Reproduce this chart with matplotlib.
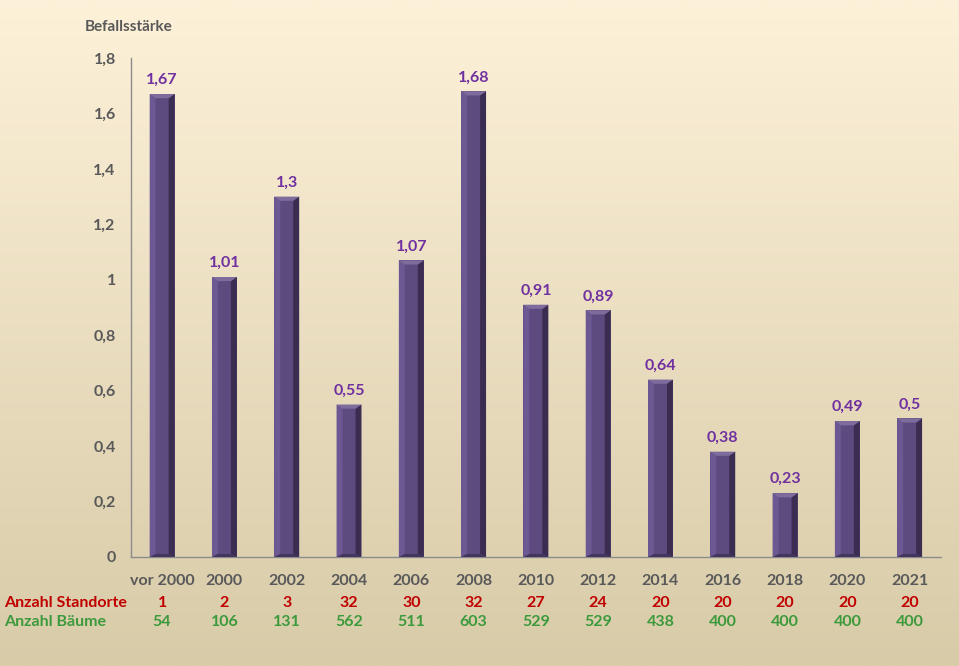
import matplotlib
matplotlib.use("Agg")
import matplotlib.pyplot as plt
import numpy as np
from matplotlib.patches import Polygon

categories = ["vor 2000", "2000", "2002", "2004", "2006", "2008", "2010", "2012",
              "2014", "2016", "2018", "2020", "2021"]
befall = [1.67, 1.01, 1.3, 0.55, 1.07, 1.68, 0.91, 0.89, 0.64, 0.38, 0.23, 0.49, 0.5]
standorte = [1, 2, 3, 32, 30, 32, 27, 24, 20, 20, 20, 20, 20]
baeume = [54, 106, 131, 562, 511, 603, 529, 529, 438, 400, 400, 400, 400]
yticks = [0, 0.2, 0.4, 0.6, 0.8, 1.0, 1.2, 1.4, 1.6, 1.8]

plt.rcParams['font.family'] = ['Lato', 'DejaVu Sans']

W, H = 959, 666
fig = plt.figure(figsize=(W / 100, H / 100), dpi=100)

# background gradient
bg = fig.add_axes([0, 0, 1, 1], zorder=-10)
top = np.array([253, 241, 217]) / 255
bot = np.array([216, 203, 168]) / 255
t = np.linspace(0, 1, 256)[:, None]
grad = top[None, :] * (1 - t) + bot[None, :] * t
bg.imshow(grad[:, None, :], aspect='auto', extent=[0, 1, 0, 1])
bg.axis('off')

axpos = [0.1366, 0.1637, 0.981 - 0.1366, 0.9129 - 0.1637]
ax = fig.add_axes(axpos)
ax.patch.set_alpha(0)
x = np.arange(len(categories))
w = 0.4
ax.set_xlim(-0.5, len(categories) - 0.5)
ax.set_ylim(0, 1.8)
bars = ax.bar(x, befall, width=w, color="#5d4a7e", edgecolor='none', zorder=2)

# pixel scale factors
xpix_per_unit = axpos[2] * W / (len(categories))
ypix_per_unit = axpos[3] * H / 1.8

for b in bars:
    x0 = b.get_x(); x1 = x0 + b.get_width(); y1 = b.get_height(); y0 = 0
    dx = b.get_width() * 0.24
    dpx = dx * xpix_per_unit
    dy = dpx * 0.7 / ypix_per_unit
    dyb = dpx * 0.5 / ypix_per_unit
    ax.add_patch(Polygon([(x0, y0), (x0, y1), (x0 + dx, y1 - dy), (x0 + dx, y0 + dyb)],
                         closed=True, color="#6c5892", lw=0, zorder=3))
    ax.add_patch(Polygon([(x1, y0), (x1, y1), (x1 - dx, y1 - dy), (x1 - dx, y0 + dyb)],
                         closed=True, color="#3b2d52", lw=0, zorder=3))
    ax.add_patch(Polygon([(x0, y1), (x1, y1), (x1 - dx, y1 - dy), (x0 + dx, y1 - dy)],
                         closed=True, color="#7d6c9c", lw=0, zorder=3))
    ax.add_patch(Polygon([(x0, y0), (x1, y0), (x1 - dx, y0 + dyb), (x0 + dx, y0 + dyb)],
                         closed=True, color="#44355e", lw=0, zorder=3))

for xi, v in zip(x, befall):
    ax.annotate(f"{v:g}".replace(".", ","), (xi, v), xytext=(0, 5), textcoords="offset points",
                ha="center", va="bottom", color="#7030a0", fontsize=11.5, fontweight="bold")

ax.set_yticks(yticks)
ax.set_yticklabels([f"{v:g}".replace(".", ",") for v in yticks])
ax.set_xticks(x)
ax.set_xticklabels(categories)
ax.tick_params(axis='both', length=0, labelsize=11.5, labelcolor="#595959")
ax.tick_params(axis='y', pad=11)
ax.tick_params(axis='x', pad=12)
for lab in ax.get_xticklabels() + ax.get_yticklabels():
    lab.set_fontweight("bold")
for s in ["top", "right"]:
    ax.spines[s].set_visible(False)
for s in ["left", "bottom"]:
    ax.spines[s].set_color("#8c8c8c")
    ax.spines[s].set_linewidth(1)

fig.text(85 / W, 1 - 27 / H, "Befallsstärke", ha="left", va="center",
         fontsize=11, fontweight="bold", color="#595959")

trans = ax.get_xaxis_transform()
fig.text(4 / W, 1 - 603 / H, "Anzahl Standorte", ha="left", va="center",
         fontsize=11.5, fontweight="bold", color="#c00000")
fig.text(4 / W, 1 - 622 / H, "Anzahl Bäume", ha="left", va="center",
         fontsize=11.5, fontweight="bold", color="#3c9a3c")
ypos1 = (1 - 603 / H - axpos[1]) / axpos[3]
ypos2 = (1 - 622 / H - axpos[1]) / axpos[3]
for xi, s, bm in zip(x, standorte, baeume):
    ax.text(xi, ypos1, str(s), transform=trans, ha="center", va="center",
            fontsize=11.5, fontweight="bold", color="#c00000", clip_on=False)
    ax.text(xi, ypos2, str(bm), transform=trans, ha="center", va="center",
            fontsize=11.5, fontweight="bold", color="#3c9a3c", clip_on=False)

fig.savefig("out.png", dpi=100)
